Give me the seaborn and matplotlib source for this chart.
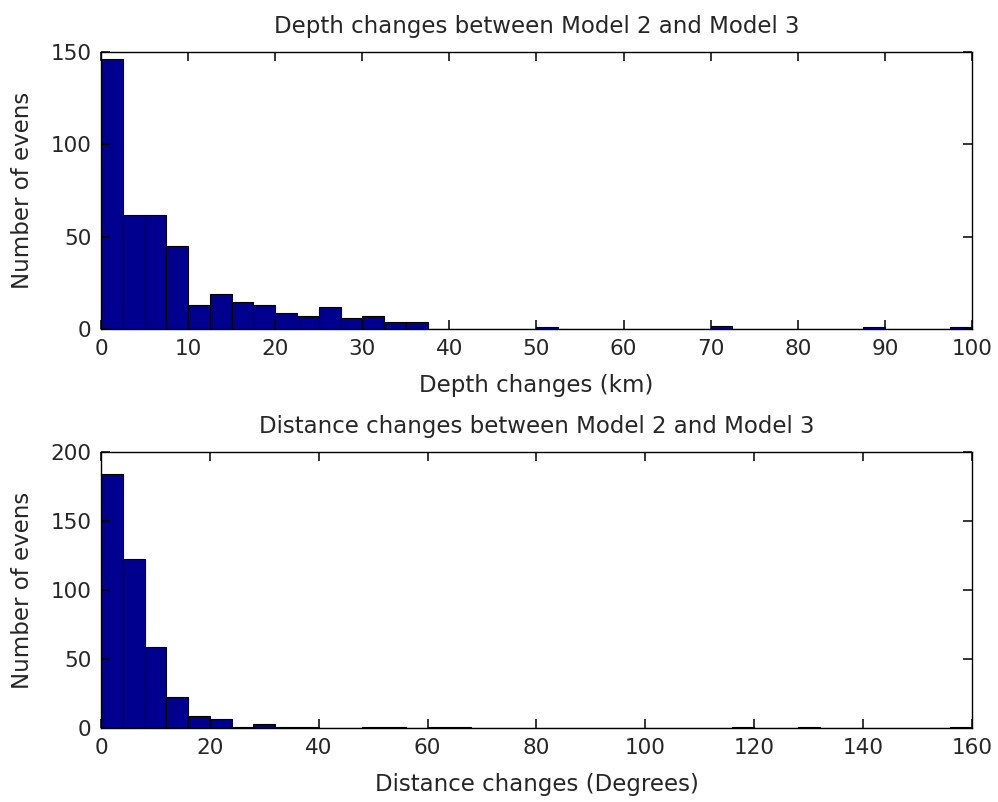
import numpy as np
import pandas as pd
import seaborn as sns
import matplotlib.pyplot as plt

# histogram counts (40 bins each)
depth_counts = [146, 62, 62, 45, 13, 19, 15, 13, 9, 7,
                12, 6, 7, 4, 4, 0, 0, 0, 0, 0,
                1, 0, 0, 0, 0, 0, 0, 0, 2, 0,
                0, 0, 0, 0, 0, 1, 0, 0, 0, 1]
dist_counts = [184, 123, 59, 23, 9, 7, 1, 3, 1, 1,
               0, 0, 1, 1, 0, 1, 1, 0, 0, 0,
               0, 0, 0, 0, 0, 0, 0, 0, 0, 1,
               0, 0, 1, 0, 0, 0, 0, 0, 0, 1]
depth_width = 2.5
dist_width = 4.0
depth_edges = np.arange(0, 100 + depth_width / 2, depth_width)
dist_edges = np.arange(0, 160 + dist_width / 2, dist_width)

depth_xticks = [0, 10, 20, 30, 40, 50, 60, 70, 80, 90, 100]
depth_yticks = [0, 50, 100, 150]
dist_xticks = [0, 20, 40, 60, 80, 100, 120, 140, 160]
dist_yticks = [0, 50, 100, 150, 200]

depth_df = pd.DataFrame({"x": (depth_edges[:-1] + depth_edges[1:]) / 2, "n": depth_counts})
dist_df = pd.DataFrame({"x": (dist_edges[:-1] + dist_edges[1:]) / 2, "n": dist_counts})

sns.set_style("white", {"xtick.bottom": True, "xtick.top": True,
                        "ytick.left": True, "ytick.right": True,
                        "xtick.direction": "in", "ytick.direction": "in"})
plt.rcParams['font.family'] = ['DejaVu Sans']
plt.rcParams['xtick.major.size'] = 6.5
plt.rcParams['ytick.major.size'] = 6.5
plt.rcParams['xtick.major.width'] = 1.1
plt.rcParams['ytick.major.width'] = 1.1

bar_color = '#00008F'
text_color = '#262626'
fs = 16.5
tick_fs = 15.5

fig = plt.figure(figsize=(9.98, 8.02), dpi=100)
ax1 = fig.add_axes([0.1012, 0.5894, 0.8727, 0.3458])
ax2 = fig.add_axes([0.1012, 0.0919, 0.8727, 0.3441])

panels = [
    (ax1, depth_df, depth_edges, depth_xticks, depth_yticks, (0, 100), (0, 150),
     "Depth changes between Model 2 and Model 3", "Depth changes (km)"),
    (ax2, dist_df, dist_edges, dist_xticks, dist_yticks, (0, 160), (0, 200),
     "Distance changes between Model 2 and Model 3", "Distance changes (Degrees)"),
]

for ax, df, edges, xt, yt, xl, yl, title, xlabel in panels:
    sns.histplot(data=df, x="x", weights="n", bins=list(edges), ax=ax,
                 color=bar_color, edgecolor='black', linewidth=0.8, alpha=1)
    ax.set_xlim(*xl)
    ax.set_ylim(*yl)
    ax.set_xticks(xt)
    ax.set_yticks(yt)
    ax.set_title(title, fontsize=fs, color=text_color, pad=14)
    ax.set_xlabel(xlabel, fontsize=fs, color=text_color, labelpad=11)
    ax.set_ylabel("Number of evens", fontsize=fs, color=text_color, labelpad=12)
    # matlab-like box with inward ticks on every side
    ax.tick_params(axis='x', which='major', top=True, bottom=True, direction='in',
                   length=6.5, width=1.1, color='black')
    ax.tick_params(axis='y', which='major', left=True, right=True, direction='in',
                   length=6.5, width=1.1, color='black')
    ax.tick_params(labelsize=tick_fs, pad=7, labelcolor=text_color)
    for sp in ax.spines.values():
        sp.set_visible(True)
        sp.set_color('black')
        sp.set_linewidth(1)
        sp.set_zorder(5)
    ax.set_axisbelow(False)
    ax.set_facecolor('white')

fig.patch.set_facecolor('white')
fig.savefig("out.png", dpi=100, facecolor='white')
plt.close()
